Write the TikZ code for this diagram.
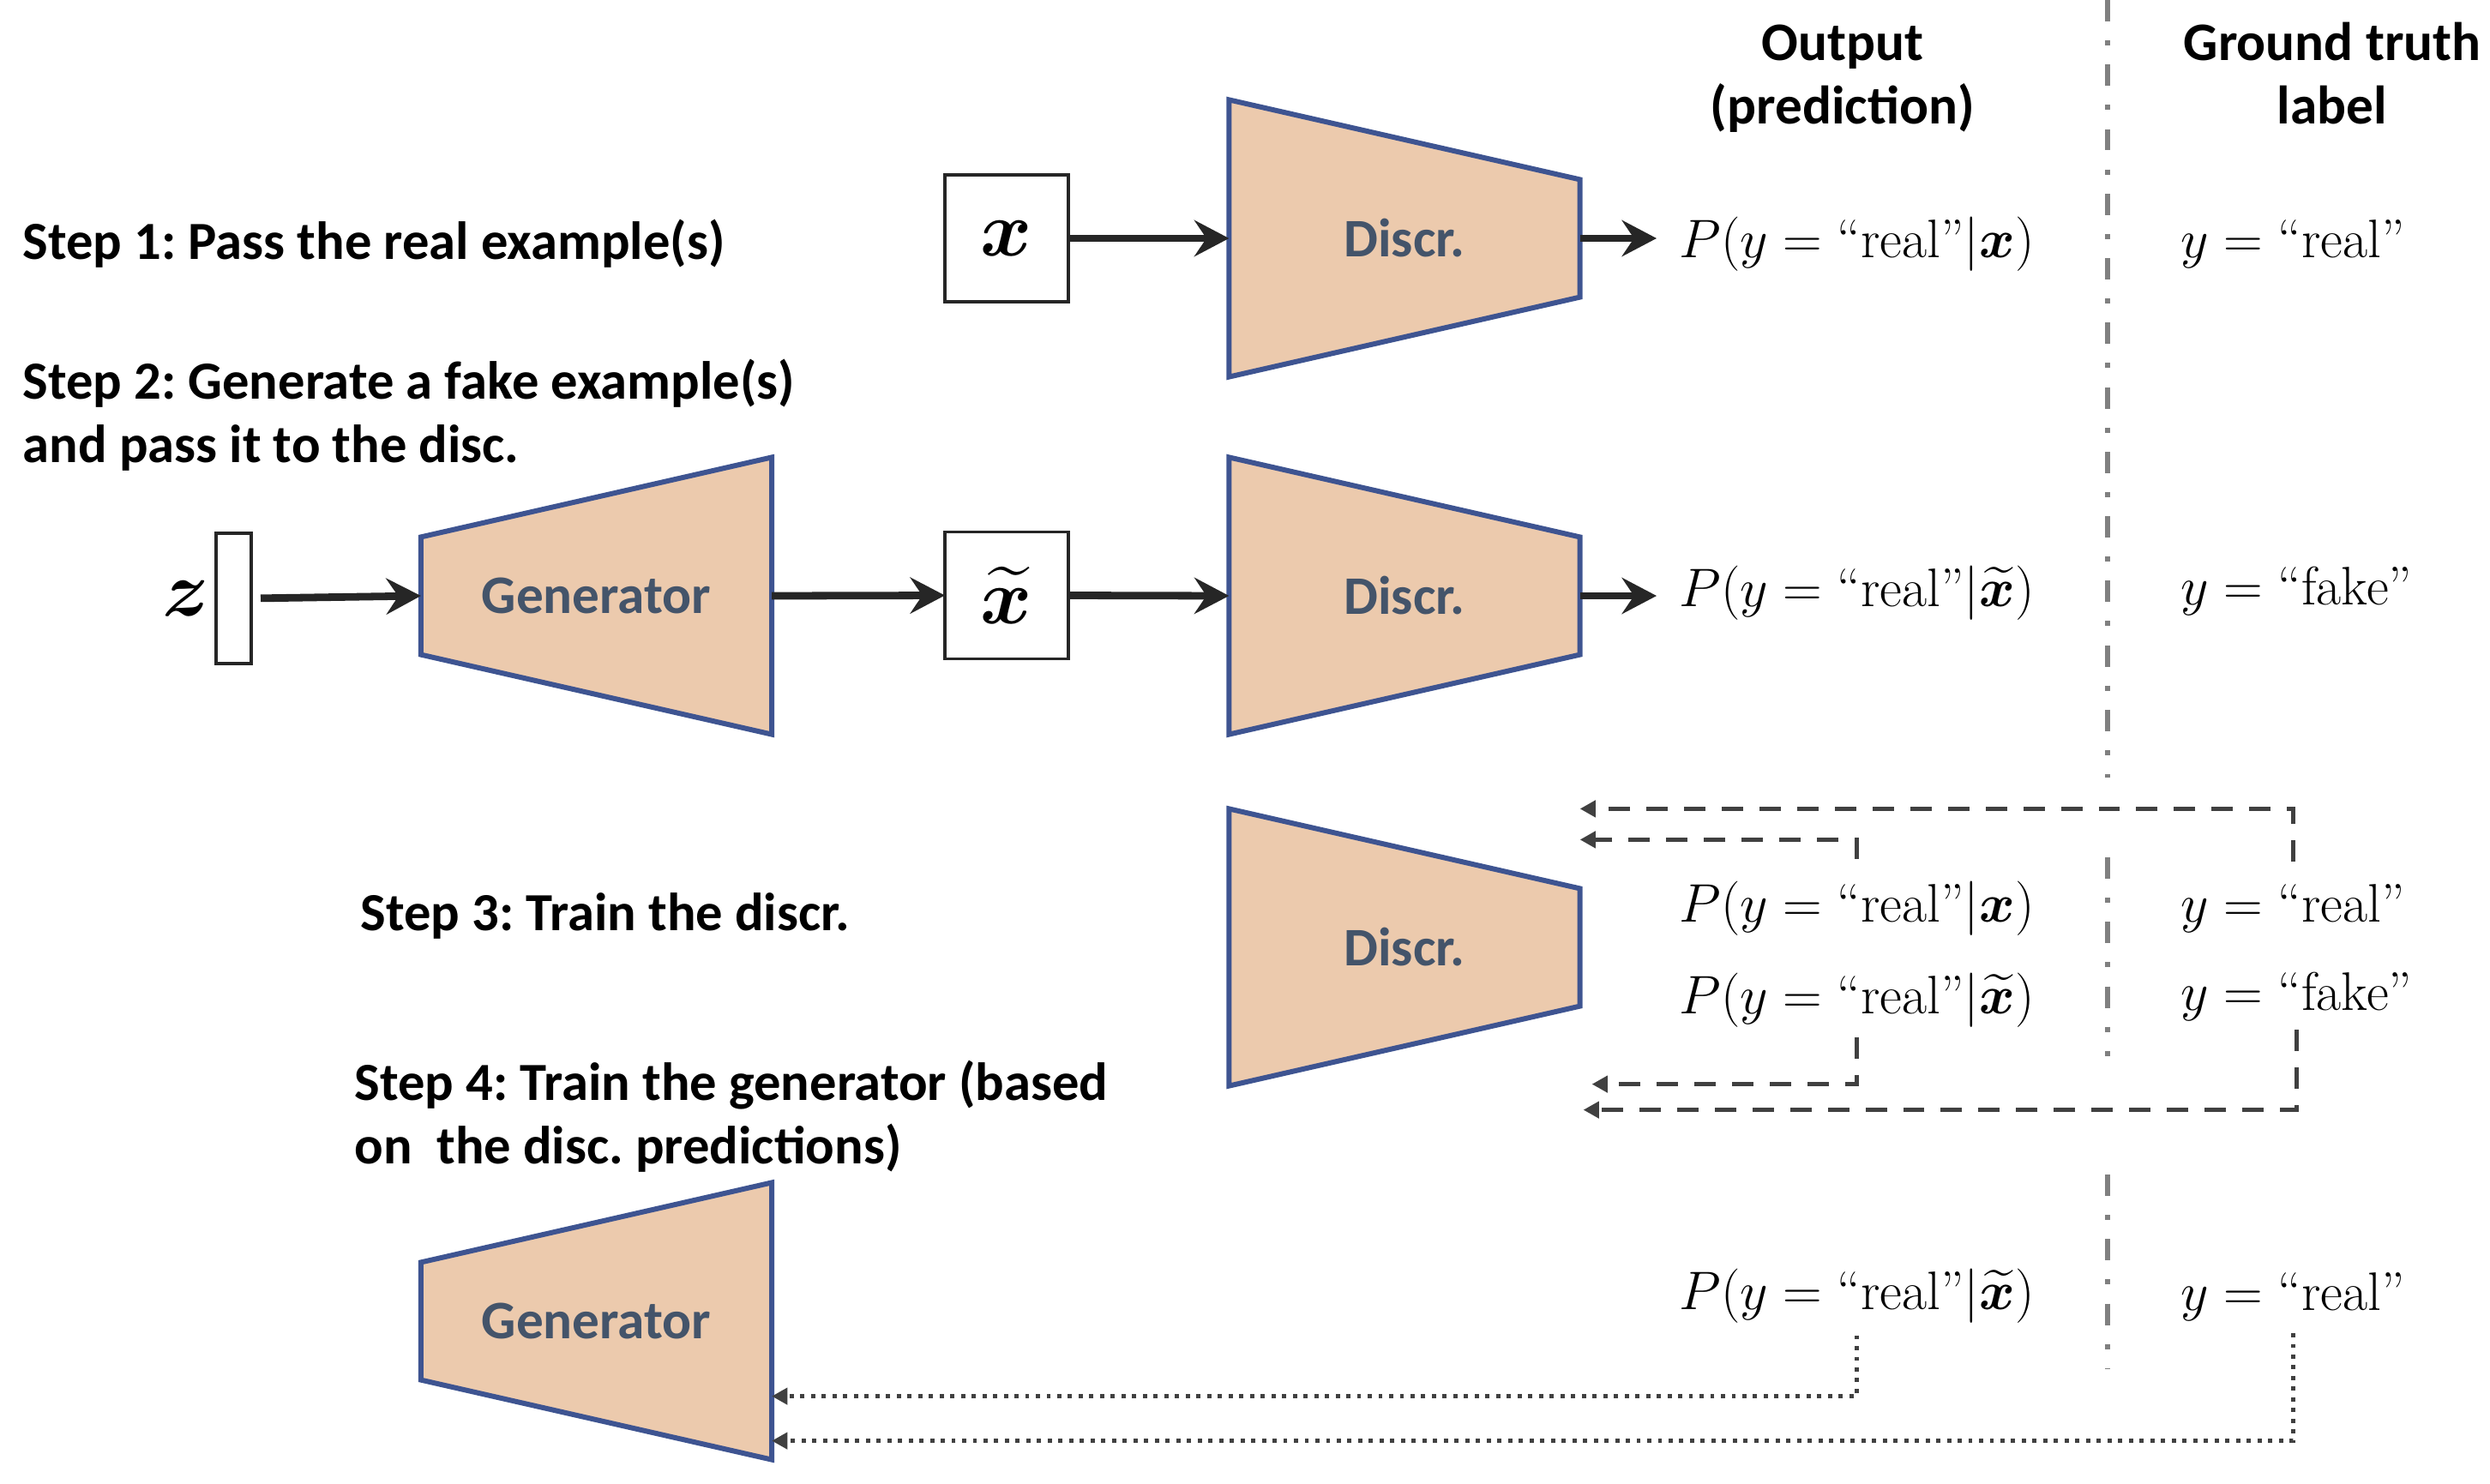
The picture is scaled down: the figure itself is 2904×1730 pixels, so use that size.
\RequirePackage{fix-cm}
\documentclass[tikz,border=0pt]{standalone}
\usepackage{amsmath,bm}
\usepackage{fontspec}
\newfontfamily\cali{Carlito}
\usetikzlibrary{arrows.meta,calc,backgrounds}
\definecolor{trapfill}{RGB}{236,202,173}
\definecolor{trapedge}{RGB}{62,84,145}
\definecolor{lblcol}{RGB}{68,84,106}
\definecolor{arrcol}{RGB}{38,38,38}
\definecolor{dashcol}{RGB}{64,64,64}
\definecolor{divcol}{RGB}{128,128,128}
\frenchspacing
\begin{document}
\begin{tikzpicture}[x=0.01cm,y=-0.01cm,
  steptext/.style={font=\cali\bfseries\fontsize{17.8}{21}\selectfont, anchor=base west, inner sep=0pt},
  headtext/.style={font=\cali\bfseries\fontsize{18}{21}\selectfont, anchor=base, inner sep=0pt},
  mathtext/.style={font=\fontsize{18}{21}\selectfont, anchor=base west, inner sep=0pt},
  trapbox/.style={minimum width=4.09cm, minimum height=3.23cm, inner sep=0pt, outer sep=0pt, font=\cali\bfseries\fontsize{18}{21}\selectfont, text=lblcol},
  trapshape/.style={fill=trapfill, draw=trapedge, line width=1.7pt},
  inbox/.style={draw=arrcol, line width=1.1pt, fill=white, minimum width=1.44cm, minimum height=1.48cm, inner sep=0pt, outer sep=0pt, font=\fontsize{26}{30}\selectfont},
  mainarrow/.style={draw=arrcol, line width=2.5pt, -{Stealth[length=11.5pt,width=12pt,inset=4pt]}},
  dasharrow/.style={draw=dashcol, line width=1.3pt, dash pattern=on 7.1pt off 5.4pt, -{Triangle[length=5.2pt,width=5.4pt]}},
  dotarrow/.style={draw=dashcol, line width=1.4pt, dash pattern=on 1.4pt off 2.15pt, -{Triangle[length=5.2pt,width=5.4pt]}},
  divider/.style={draw=divcol, line width=1.6pt, dash pattern=on 7.1pt off 6.3pt on 1.7pt off 6.3pt}
]
\useasboundingbox (0,0) rectangle (2904,1730);

% step texts
\node[steptext] (s1) at (26,302) {Step 1: Pass the real example(s)};
\node[steptext] (s2a) at (26,465) {Step 2: Generate a fake example(s)};
\node[steptext] (s2b) at (26,539) {and pass it to the disc.};
\node[steptext] (s3) at (420,1085) {Step 3: Train the discr.};
\node[steptext] (s4a) at (413,1283) {Step 4: Train the generator (based};
\node[steptext] (s4b) at (413,1357) {on\ \ the disc. predictions)};

% headers
\node[headtext] (h1a) at (2149,70) {Output};
\node[headtext] (h1b) at (2149,144) {(prediction)};
\node[headtext] (h2a) at (2720,70) {Ground truth};
\node[headtext] (h2b) at (2720,144) {label};

% trapezoids
\node[trapbox] (d1) at (1638,278) {Discr.};
\node[trapbox] (d2) at (1638,695) {Discr.};
\node[trapbox] (d3) at (1638,1105) {Discr.};
\node[trapbox] (g1) at (695.5,695) {Generator};
\node[trapbox] (g3) at (695.5,1541) {Generator};
\begin{scope}[on background layer]
\foreach \n in {d1,d2,d3}
  \draw[trapshape] (\n.north west) -- ($(\n.north east)+(0,93)$) -- ($(\n.south east)+(0,-93)$) -- (\n.south west) -- cycle;
\foreach \n in {g1,g3}
  \draw[trapshape] (\n.north east) -- (\n.south east) -- ($(\n.south west)+(0,-93)$) -- ($(\n.north west)+(0,93)$) -- cycle;
\end{scope}

% input boxes
\node[inbox] (xb) at (1174,278) {$\boldsymbol{x}$};
\node[inbox] (xtb) at (1174,694.5) {$\widetilde{\boldsymbol{x}}$};
\node[draw=arrcol, line width=1.1pt, minimum width=0.41cm, minimum height=1.52cm, inner sep=0pt, outer sep=0pt] (zb) at (272.5,698) {};
\node[font=\fontsize{26}{30}\selectfont, inner sep=0pt] (zl) at (217,698) {$\boldsymbol{z}$};

% formulas
\node[mathtext] (p1) at (1958,300) {$P(y=\text{“real”}|\boldsymbol{x})$};
\node[mathtext] (gt1) at (2543,300) {$y=\text{“real”}$};
\node[mathtext] (p2) at (1958,707) {$P(y=\text{“real”}|\widetilde{\boldsymbol{x}})$};
\node[mathtext] (gt2) at (2543,705) {$y=\text{“fake”}$};
\node[mathtext] (p3) at (1958,1075) {$P(y=\text{“real”}|\boldsymbol{x})$};
\node[mathtext] (gt3) at (2543,1075) {$y=\text{“real”}$};
\node[mathtext] (p4) at (1958,1182) {$P(y=\text{“real”}|\widetilde{\boldsymbol{x}})$};
\node[mathtext] (gt4) at (2543,1178) {$y=\text{“fake”}$};
\node[mathtext] (p5) at (1958,1527) {$P(y=\text{“real”}|\widetilde{\boldsymbol{x}})$};
\node[mathtext] (gt5) at (2543,1528) {$y=\text{“real”}$};

% output arrow ends
\coordinate (o1) at (1932,278);
\coordinate (o2) at (1932,695);

% solid arrows
\draw[mainarrow] (xb.east) -- (d1.west);
\draw[mainarrow] (d1.east) -- (o1);
\draw[mainarrow, shorten <=0.11cm] (zb.east) -- (g1.west);
\draw[mainarrow] (g1.east) -- (xtb.west);
\draw[mainarrow] (xtb.east) -- (d2.west);
\draw[mainarrow] (d2.east) -- (o2);

% dashed feedback (step 3)
\draw[dasharrow] ($(gt3.north)+(0,-25)$) |- (d3.north east);
\draw[dasharrow] ($(p3.north)+(0,-25)$) |- ($(d3.north east)+(0,36)$);
\draw[dasharrow] ($(p4.south)+(0,11)$) |- ($(d3.south east)+(14,-2)$);
\draw[dasharrow] ($(gt4.south)+(0,10)$) |- ($(d3.south east)+(4,28)$);

% dotted feedback (step 4)
\draw[dotarrow] ($(p5.south)+(0,14)$) |- ($(g3.south east)+(0,-74)$);
\draw[dotarrow] ($(gt5.south)+(0,14)$) |- ($(g3.south east)+(0,-22)$);

% divider
\coordinate (v0) at (2458,0);
\coordinate (v1) at (2458,907);
\coordinate (v2) at (2458,1000);
\coordinate (v3) at (2458,1232);
\coordinate (v4) at (2458,1370);
\coordinate (v5) at (2458,1597);
\draw[divider] (v0) -- (v1);
\draw[divider] (v2) -- (v3);
\draw[divider] (v4) -- (v5);
\end{tikzpicture}
\end{document}
